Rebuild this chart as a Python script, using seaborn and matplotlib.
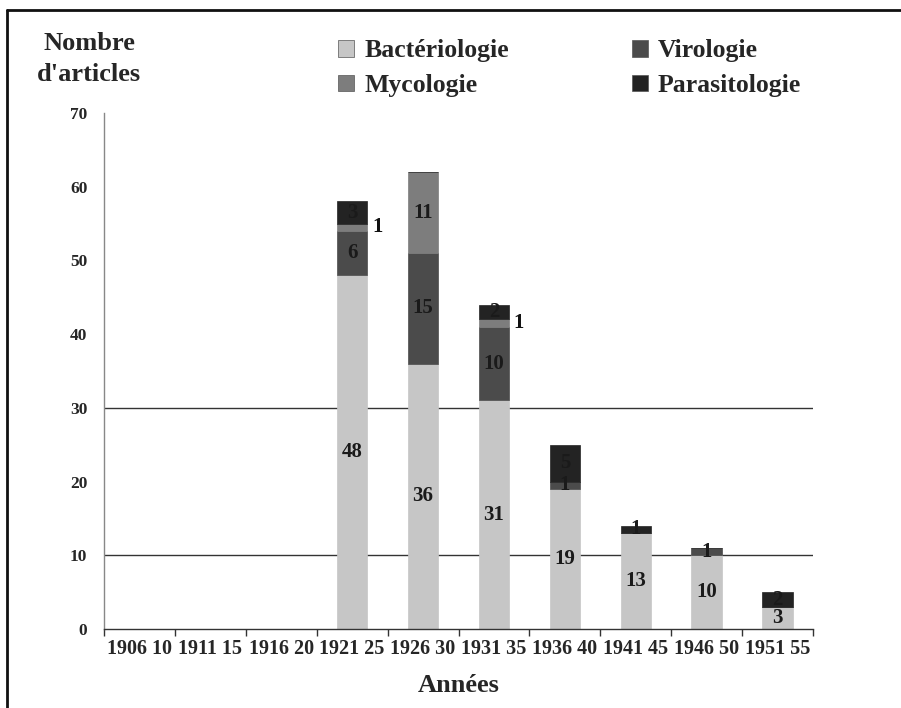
import numpy as np
import pandas as pd
import seaborn as sns
import matplotlib.pyplot as plt
from matplotlib.lines import Line2D
from matplotlib.patches import Patch

sns.set_theme(style="white")
plt.rcParams['font.family'] = ['Liberation Serif', 'DejaVu Serif']
plt.rcParams['font.weight'] = 'bold'

# Data
periods = ["1906 10", "1911 15", "1916 20", "1921 25", "1926 30",
           "1931 35", "1936 40", "1941 45", "1946 50", "1951 55"]
bacteriologie = [0, 0, 0, 48, 36, 31, 19, 13, 10, 3]
virologie = [0, 0, 0, 6, 15, 10, 1, 0, 1, 0]
mycologie = [0, 0, 0, 1, 11, 1, 0, 0, 0, 0]
parasitologie = [0, 0, 0, 3, 0, 2, 5, 1, 0, 2]

series = [("Bactériologie", bacteriologie, "#c6c6c6"),
          ("Virologie", virologie, "#4b4b4b"),
          ("Mycologie", mycologie, "#7d7d7d"),
          ("Parasitologie", parasitologie, "#232323")]

# labels drawn beside the bar instead of inside
outside = {("Mycologie", 3), ("Mycologie", 5)}

fig = plt.figure(figsize=(9.01, 7.08), dpi=100)
ax = fig.add_axes([0.1154, 0.1116, 0.787, 0.7288])

for y in (10, 30):
    ax.axhline(y, color="#333333", lw=1, zorder=0)

bottom = np.zeros(len(periods))
for name, vals, col in series:
    df = pd.DataFrame({"period": periods, "n": vals})
    sns.barplot(data=df, x="period", y="n", order=periods, color=col,
                bottom=bottom, width=0.43, ax=ax, saturation=1,
                edgecolor=col, linewidth=0.5, zorder=2)
    for i, v in enumerate(vals):
        if v == 0:
            continue
        mid = bottom[i] + v / 2
        if (name, i) in outside:
            ax.text(i + 0.28, mid, str(v), ha="left", va="center",
                    fontsize=15, color="#111111", zorder=4)
        else:
            ax.text(i, mid, str(v), ha="center", va="center",
                    fontsize=15, color="#1a1a1a", zorder=4)
    bottom = bottom + np.array(vals)

ax.set_xlim(-0.5, len(periods) - 0.5)
ax.set_ylim(0, 70)
ax.set_yticks(range(0, 71, 10))
ax.set_xticks(range(len(periods)))
ax.set_xticklabels(periods, fontsize=14.5)
ax.set_xticks(np.arange(-0.5, len(periods), 1), minor=True)
ax.tick_params(axis="x", which="major", length=0, pad=7)
ax.tick_params(axis="x", which="minor", length=5, color="#333333",
               direction="out", bottom=True)
ax.tick_params(axis="y", length=0, labelsize=12.5, pad=12)
ax.tick_params(axis="y", which="major", left=False)
for lab in ax.get_yticklabels() + ax.get_xticklabels():
    lab.set_fontweight("bold")
ax.set_xlabel("Années", fontsize=19, fontweight="bold", labelpad=11)
ax.set_ylabel("")

for s in ("top", "right"):
    ax.spines[s].set_visible(False)
ax.spines["left"].set_color("#888888")
ax.spines["bottom"].set_color("#333333")
ax.spines["left"].set_linewidth(1)
ax.spines["bottom"].set_linewidth(1)

fig.text(0.099, 0.917, "Nombre\nd'articles", ha="center", va="center",
         fontsize=19, fontweight="bold", linespacing=1.45)

handles = [Patch(facecolor=c, edgecolor="#555555", linewidth=0.5)
           for _, _, c in series]
labels = [n for n, _, _ in series]
order = [0, 2, 1, 3]
fig.legend([handles[k] for k in order], [labels[k] for k in order],
           ncol=2, loc="upper left", bbox_to_anchor=(0.35, 0.977),
           frameon=False, handlelength=0.6, handleheight=0.6,
           handletextpad=0.4, columnspacing=4.8, labelspacing=0.45,
           prop={"weight": "bold", "size": 18.5})

# frame lines on the top and left of the picture
fig.add_artist(Line2D([0.008, 1.0], [0.986, 0.986], color="#111111", lw=2))
fig.add_artist(Line2D([0.008, 0.008], [0.0, 0.986], color="#111111", lw=2))

fig.savefig("out.png", dpi=100)
